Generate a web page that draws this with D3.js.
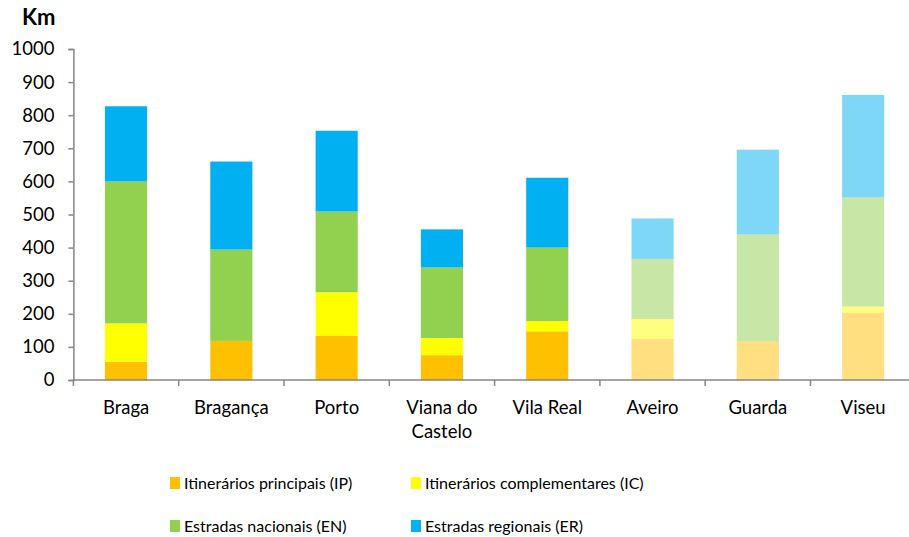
<!DOCTYPE html>
<html>
<head>
<meta charset="utf-8">
<script src="https://cdn.jsdelivr.net/npm/d3@7"></script>
<style>
  body { margin: 0; background: #fff; }
  svg text { font-family: Lato, "Open Sans", sans-serif; fill: #000; }
</style>
</head>
<body>
<div class="chart"></div>
<script>
const categories = ['Braga', 'Bragança', 'Porto', 'Viana do Castelo', 'Vila Real', 'Aveiro', 'Guarda', 'Viseu'];
const faded = ['Aveiro', 'Guarda', 'Viseu'];

const seriesNames = ['Itinerários principais (IP)', 'Itinerários complementares (IC)', 'Estradas nacionais (EN)', 'Estradas regionais (ER)'];
const seriesKeys = ['IP', 'IC', 'EN', 'ER'];
const seriesColors = ['#FFC000', '#FFFF00', '#92D050', '#00B0F0'];

const ipValues = [55, 118, 133, 75, 147, 124, 117, 203];
const icValues = [116, 0, 132, 52, 31, 60, 0, 19];
const enValues = [429, 276, 244, 213, 222, 182, 323, 330];
const erValues = [227, 266, 244, 115, 211, 122, 256, 309];

const yTicks = [0, 100, 200, 300, 400, 500, 600, 700, 800, 900, 1000];

const outerWidth = 909;
const outerHeight = 537;
const x0 = 73.4, x1 = 915.8;
const yBottom = 380, yTop = 49;

const table = categories.map((c, i) => ({
    cat: c, IP: ipValues[i], IC: icValues[i], EN: enValues[i], ER: erValues[i]
}));

const svg = d3.select('.chart').append('svg')
    .attr('width', outerWidth)
    .attr('height', outerHeight);

const x = d3.scaleBand().domain(categories).range([x0, x1]).padding(0);
const y = d3.scaleLinear().domain([0, 1000]).range([yBottom, yTop]);

const barW = x.bandwidth() * 0.4;
const stacked = d3.stack().keys(seriesKeys)(table);

// Bars
const layers = svg.append('g').selectAll('g')
    .data(stacked)
    .join('g')
    .attr('fill', (d, i) => seriesColors[i]);

layers.selectAll('rect')
    .data(d => d)
    .join('rect')
    .attr('x', d => x(d.data.cat) + (x.bandwidth() - barW) / 2)
    .attr('width', barW)
    .attr('y', d => y(d[1]))
    .attr('height', d => y(d[0]) - y(d[1]))
    .attr('fill-opacity', d => faded.includes(d.data.cat) ? 0.5 : 1);

// Y axis
const gy = svg.append('g')
    .attr('transform', `translate(${x0}, 0)`)
    .call(d3.axisLeft(y).tickValues(yTicks).tickSize(5).tickPadding(14).tickFormat(d3.format('d')));
gy.select('.domain').attr('stroke', '#868686').attr('stroke-width', 1.5);
gy.selectAll('.tick line').attr('stroke', '#868686').attr('stroke-width', 1.5);
gy.selectAll('.tick text').style('font-size', '18.5px');

// X axis
const gx = svg.append('g')
    .attr('transform', `translate(0, ${yBottom})`);
gx.append('line')
    .attr('x1', x0).attr('x2', x1)
    .attr('stroke', '#868686').attr('stroke-width', 1.5);
gx.selectAll('.sep')
    .data(d3.range(categories.length + 1))
    .join('line')
    .attr('x1', i => x0 + i * x.step())
    .attr('x2', i => x0 + i * x.step())
    .attr('y1', 0).attr('y2', 6)
    .attr('stroke', '#868686').attr('stroke-width', 1.5);

const catLines = {'Viana do Castelo': ['Viana do', 'Castelo']};
gx.selectAll('.cat')
    .data(categories)
    .join('text')
    .attr('text-anchor', 'middle')
    .style('font-size', '18.5px')
    .attr('transform', d => `translate(${x(d) + x.bandwidth() / 2}, 34)`)
    .each(function(d) {
        const lines = catLines[d] || [d];
        d3.select(this).selectAll('tspan')
            .data(lines)
            .join('tspan')
            .attr('x', 0)
            .attr('dy', (l, i) => i === 0 ? 0 : 24)
            .text(l => l);
    });

// Axis title
svg.append('text')
    .attr('x', 22).attr('y', 25)
    .style('font-size', '22px')
    .style('font-weight', 'bold')
    .text('Km');

// Legend
const legendPos = [[170, 483], [411, 483], [170, 526], [411, 526]];
const legend = svg.append('g').selectAll('g')
    .data(seriesNames)
    .join('g')
    .attr('transform', (d, i) => `translate(${legendPos[i][0]}, ${legendPos[i][1]})`);
legend.append('rect')
    .attr('x', 0).attr('y', -6)
    .attr('width', 10).attr('height', 12)
    .attr('fill', (d, i) => seriesColors[i]);
legend.append('text')
    .attr('x', 14).attr('y', 6)
    .style('font-size', '16px')
    .text(d => d);
</script>
</body>
</html>
